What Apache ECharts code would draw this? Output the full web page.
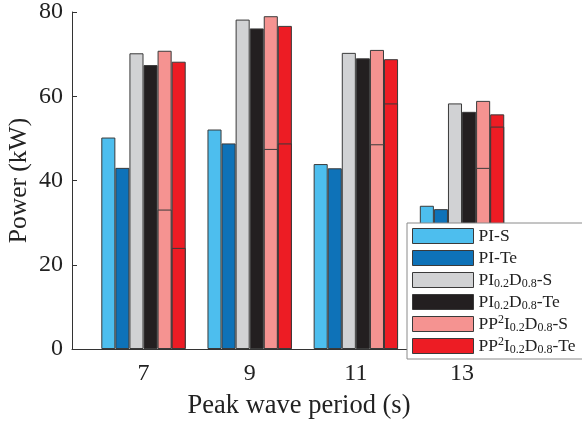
<!DOCTYPE html>
<html>
<head>
<meta charset="utf-8">
<script src="https://cdn.jsdelivr.net/npm/echarts@6/dist/echarts.min.js"></script>
<style>html,body{margin:0;padding:0;background:#fff}#c{width:582px;height:424px}</style>
</head>
<body>
<div id="c"></div>
<script>
// Peak wave periods (s)
var periods = [7, 9, 11, 13];
var seriesNames = ['PI-S', 'PI-Te', 'PI0.2D0.8-S', 'PI0.2D0.8-Te', 'PP2I0.2D0.8-S', 'PP2I0.2D0.8-Te'];
var PI_S = [50.2, 52.1, 43.9, 34.0];
var PI_Te = [43.0, 48.8, 42.9, 33.2];
var PID_S = [70.2, 78.2, 70.3, 58.3];
var PID_Te = [67.4, 76.1, 69.0, 56.3];
var PPID_S = [70.8, 79.0, 71.0, 58.9];
var PPID_Te = [68.2, 76.7, 68.8, 55.7];
// inner (lower) segments drawn within the PP2I0.2D0.8 bars
var PPID_S_inner = [33.1, 47.5, 48.6, 43.0];
var PPID_Te_inner = [24.0, 48.8, 58.3, 52.8];
var yTicks = [0, 20, 40, 60, 80];

var colors = ['#4DBEEE', '#0E72B8', '#D1D2D4', '#231F20', '#F59391', '#ED1C24'];
var mainData = [PI_S, PI_Te, PID_S, PID_Te, PPID_S, PPID_Te];
var innerData = [null, null, null, null, PPID_S_inner, PPID_Te_inner];

function pairs(arr) { return arr ? arr.map(function (v, i) { return [periods[i], v]; }) : []; }

var series = [];
seriesNames.forEach(function (n, k) {
  series.push({
    type: 'bar', name: n, xAxisIndex: 0, yAxisIndex: 0,
    data: pairs(mainData[k]), barWidth: 14.07, barGap: '0%',
    itemStyle: { color: colors[k], borderColor: '#3a3a3a', borderWidth: 1 },
    emphasis: { disabled: true }, animation: false
  });
});
seriesNames.forEach(function (n, k) {
  series.push({
    type: 'bar', name: n, xAxisIndex: 1, yAxisIndex: 0,
    data: pairs(innerData[k]), barWidth: 14.07, barGap: '0%',
    itemStyle: { color: colors[k], borderColor: '#3a3a3a', borderWidth: 1 },
    emphasis: { disabled: true }, animation: false, z: 3
  });
});

function legendFmt(name) {
  if (name.indexOf('PP2I0.2D0.8') === 0) return '{n|PP}{p|2}{n|I}{s|0.2}{n|D}{s|0.8}{n|' + name.slice(11) + '}';
  if (name.indexOf('PI0.2D0.8') === 0) return '{n|PI}{s|0.2}{n|D}{s|0.8}{n|' + name.slice(9) + '}';
  return '{n|' + name + '}';
}

var serif = '"Liberation Serif", "Times New Roman", serif';
var xMin = 5.653, xMax = 15.26;
var chart = echarts.init(document.getElementById('c'), null, { renderer: 'canvas' });
chart.setOption({
  animation: false,
  backgroundColor: '#fff',
  grid: { left: 72, right: 0, top: 12, bottom: 75, outerBoundsMode: 'none' },
  legend: {
    data: seriesNames, orient: 'vertical', left: 407, top: 223,
    itemWidth: 61, itemHeight: 15, itemGap: 2, icon: 'rect',
    padding: [3, 60, 3, 5],
    backgroundColor: '#fff', borderColor: '#8a8a8a', borderWidth: 1,
    itemStyle: { borderColor: '#3a3a3a', borderWidth: 1 },
    formatter: legendFmt, selectedMode: false,
    textStyle: {
      fontFamily: serif, color: '#222', fontSize: 17.5, lineHeight: 20,
      rich: {
        n: { fontFamily: serif, fontSize: 17.5, color: '#222', lineHeight: 20 },
        s: { fontFamily: serif, fontSize: 12, color: '#222', lineHeight: 20, verticalAlign: 'bottom' },
        p: { fontFamily: serif, fontSize: 12, color: '#222', lineHeight: 20, verticalAlign: 'top' }
      }
    }
  },
  xAxis: [{
    type: 'value', min: xMin, max: xMax,
    name: 'Peak wave period (s)', nameLocation: 'middle', nameGap: 44,
    nameTextStyle: { fontFamily: serif, fontSize: 26.5, color: '#222', padding: [0, 56, 0, 0] },
    axisLine: { show: true, lineStyle: { color: '#333', width: 1 } },
    axisTick: { show: false },
    splitLine: { show: false },
    axisLabel: { customValues: periods, fontFamily: serif, fontSize: 24, color: '#222', margin: 13 }
  }, {
    type: 'value', min: xMin, max: xMax, show: false
  }],
  yAxis: {
    type: 'value', min: 0, max: 80, interval: 20,
    name: 'Power (kW)', nameLocation: 'middle', nameGap: 40, nameMoveOverlap: false,
    nameTextStyle: { fontFamily: serif, fontSize: 25.5, color: '#222' },
    axisLine: { show: true, lineStyle: { color: '#333', width: 1 } },
    axisTick: { show: true, inside: true, length: 5, lineStyle: { color: '#333' } },
    splitLine: { show: false },
    axisLabel: { fontFamily: serif, fontSize: 24, color: '#222', margin: 9,
      formatter: function (v) { return yTicks.indexOf(v) >= 0 ? String(v) : ''; } }
  },
  series: series
});
</script>
</body>
</html>
